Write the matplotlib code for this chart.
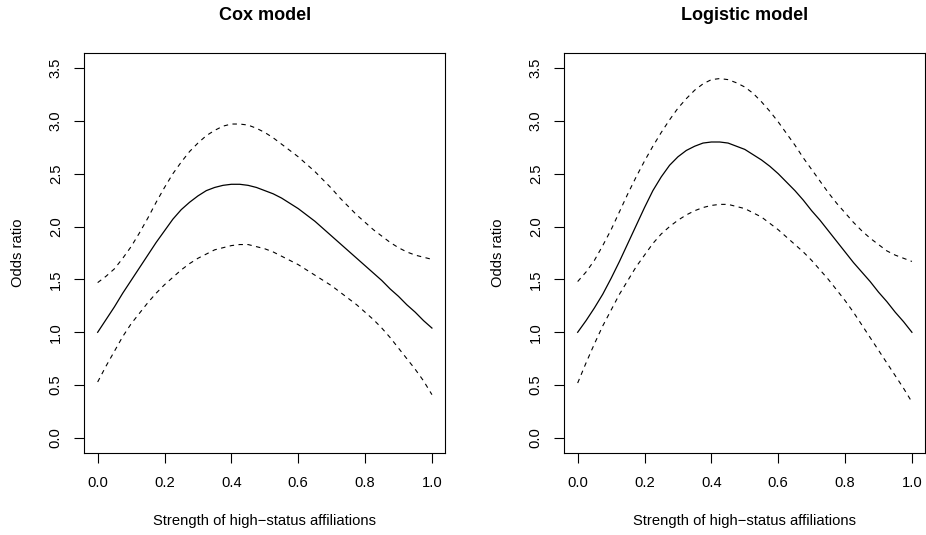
import matplotlib
matplotlib.use('Agg')
import matplotlib.pyplot as plt

plt.rcParams['font.family'] = ['Liberation Sans', 'DejaVu Sans']

# ---- data ----
strength = [0.000, 0.025, 0.050, 0.075, 0.100, 0.125, 0.150, 0.175, 0.200, 0.225,
            0.250, 0.275, 0.300, 0.325, 0.350, 0.375, 0.400, 0.425, 0.450, 0.475,
            0.500, 0.525, 0.550, 0.575, 0.600, 0.625, 0.650, 0.675, 0.700, 0.725,
            0.750, 0.775, 0.800, 0.825, 0.850, 0.875, 0.900, 0.925, 0.950, 0.975,
            1.000]

cox_or = [1.00, 1.12, 1.24, 1.37, 1.49, 1.61, 1.73, 1.85, 1.96, 2.07,
          2.16, 2.23, 2.29, 2.34, 2.37, 2.39, 2.40, 2.40, 2.39, 2.37,
          2.34, 2.31, 2.27, 2.22, 2.17, 2.11, 2.05, 1.98, 1.91, 1.84,
          1.77, 1.70, 1.63, 1.56, 1.49, 1.41, 1.34, 1.26, 1.19, 1.11,
          1.04]
cox_upper = [1.47, 1.53, 1.60, 1.70, 1.81, 1.94, 2.08, 2.23, 2.37, 2.50,
             2.61, 2.71, 2.79, 2.86, 2.91, 2.95, 2.97, 2.97, 2.96, 2.93,
             2.89, 2.84, 2.78, 2.72, 2.66, 2.59, 2.52, 2.44, 2.36, 2.27,
             2.19, 2.11, 2.04, 1.97, 1.91, 1.85, 1.80, 1.76, 1.73, 1.71,
             1.69]
cox_lower = [0.53, 0.68, 0.82, 0.96, 1.08, 1.18, 1.28, 1.37, 1.45, 1.52,
             1.59, 1.65, 1.70, 1.74, 1.78, 1.80, 1.82, 1.83, 1.83, 1.81,
             1.79, 1.76, 1.72, 1.68, 1.64, 1.59, 1.54, 1.49, 1.44, 1.38,
             1.32, 1.26, 1.19, 1.12, 1.04, 0.95, 0.85, 0.75, 0.65, 0.54,
             0.41]

logit_or = [1.00, 1.11, 1.23, 1.36, 1.51, 1.67, 1.84, 2.01, 2.18, 2.34,
            2.47, 2.58, 2.66, 2.72, 2.76, 2.79, 2.80, 2.80, 2.79, 2.76,
            2.73, 2.68, 2.63, 2.57, 2.50, 2.42, 2.34, 2.25, 2.15, 2.06,
            1.96, 1.86, 1.76, 1.66, 1.57, 1.48, 1.38, 1.29, 1.19, 1.10,
            1.00]
logit_upper = [1.48, 1.57, 1.68, 1.82, 1.97, 2.14, 2.31, 2.47, 2.62, 2.76,
               2.89, 3.01, 3.12, 3.21, 3.29, 3.35, 3.39, 3.40, 3.39, 3.36,
               3.32, 3.26, 3.18, 3.09, 2.99, 2.88, 2.77, 2.65, 2.54, 2.43,
               2.32, 2.22, 2.13, 2.04, 1.96, 1.89, 1.83, 1.77, 1.73, 1.70,
               1.67]
logit_lower = [0.52, 0.71, 0.89, 1.06, 1.21, 1.36, 1.49, 1.62, 1.73, 1.84,
               1.93, 2.00, 2.06, 2.11, 2.15, 2.18, 2.20, 2.21, 2.21, 2.19,
               2.17, 2.13, 2.09, 2.03, 1.97, 1.90, 1.83, 1.76, 1.68, 1.59,
               1.50, 1.40, 1.30, 1.19, 1.07, 0.95, 0.83, 0.71, 0.59, 0.47,
               0.34]

x_ticks = [0.0, 0.2, 0.4, 0.6, 0.8, 1.0]
x_ticklabels = ['0.0', '0.2', '0.4', '0.6', '0.8', '1.0']
y_ticks = [0.0, 0.5, 1.0, 1.5, 2.0, 2.5, 3.0, 3.5]
y_ticklabels = ['0.0', '0.5', '1.0', '1.5', '2.0', '2.5', '3.0', '3.5']

titles = ['Cox model', 'Logistic model']
xlabel = 'Strength of high\u2212status affiliations'
ylabel = 'Odds ratio'

# ---- figure ----
W, H = 926, 535
fig = plt.figure(figsize=(W / 100, H / 100), dpi=100)

box_top, box_bot = 53.2, 452.8
lefts = [84.3, 564.3]
bw = 361.0

panels = [(cox_or, cox_upper, cox_lower), (logit_or, logit_upper, logit_lower)]
FS = 10.6

for i, (est, up, lo) in enumerate(panels):
    ax = fig.add_axes([lefts[i] / W, (H - box_bot) / H, bw / W, (box_bot - box_top) / H])
    ax.plot(strength, est, color='black', lw=0.9, solid_joinstyle='round')
    ax.plot(strength, up, color='black', lw=0.8, linestyle=(0, (4, 4)))
    ax.plot(strength, lo, color='black', lw=0.8, linestyle=(0, (4, 4)))
    ax.set_xlim(-0.04, 1.04)
    ax.set_ylim(-0.14, 3.64)
    ax.set_xticks(x_ticks)
    ax.set_xticklabels(x_ticklabels)
    ax.set_yticks(y_ticks)
    ax.set_yticklabels(y_ticklabels, rotation=90, va='center')
    ax.tick_params(direction='out', length=7.0, width=0.8, labelsize=FS, colors='black')
    ax.tick_params(axis='x', pad=10)
    ax.tick_params(axis='y', pad=8.5)
    for s in ax.spines.values():
        s.set_linewidth(0.8)
        s.set_color('black')
    cx = (lefts[i] + bw / 2) / W
    fig.text(cx, 1 - 16 / H, titles[i], ha='center', va='center',
             fontsize=13, fontweight='bold')
    fig.text(cx, 1 - 521 / H, xlabel, ha='center', va='center', fontsize=FS)
    fig.text((lefts[i] - 66) / W, 1 - 253 / H, ylabel, ha='center', va='center',
             rotation=90, fontsize=FS)

fig.savefig('out.png', dpi=100)
